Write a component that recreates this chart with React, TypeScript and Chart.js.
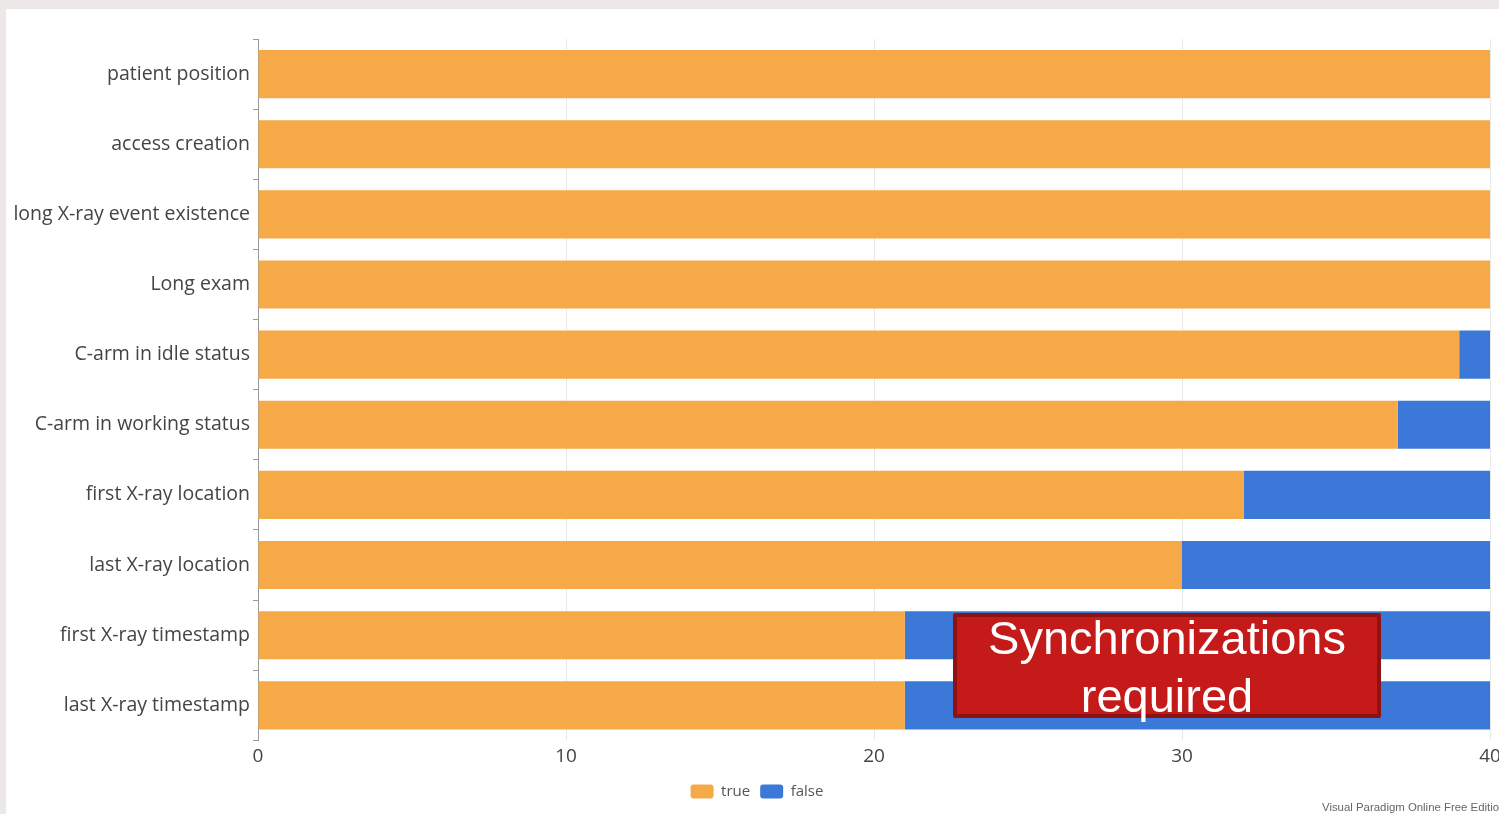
import React, { useEffect, useRef } from "react";
import { Chart, registerables } from "chart.js";

Chart.register(...registerables);

const categories = [
  "patient position",
  "access creation",
  "long X-ray event existence",
  "Long exam",
  "C-arm in idle status",
  "C-arm in working status",
  "first X-ray location",
  "last X-ray location",
  "first X-ray timestamp",
  "last X-ray timestamp",
];
const trueValues = [40, 40, 40, 40, 39, 37, 32, 30, 21, 21];
const falseValues = [0, 0, 0, 0, 1, 3, 8, 10, 19, 19];
const seriesNames = ["true", "false"];
const xTicks = [0, 10, 20, 30, 40];

const ORANGE = "#F5A947";
const BLUE = "#3C78D8";
const FONT = "'Open Sans', 'Noto Sans', sans-serif";

export default function App() {
  const canvasRef = useRef<HTMLCanvasElement | null>(null);

  useEffect(() => {
    const canvas = canvasRef.current;
    if (!canvas) return;
    const chart = new Chart(canvas, {
      type: "bar",
      data: {
        labels: categories,
        datasets: [
          {
            label: seriesNames[0],
            data: trueValues,
            backgroundColor: ORANGE,
            borderWidth: 0,
            barPercentage: 0.686,
            categoryPercentage: 1,
          },
          {
            label: seriesNames[1],
            data: falseValues,
            backgroundColor: BLUE,
            borderWidth: 0,
            barPercentage: 0.686,
            categoryPercentage: 1,
          },
        ],
      },
      options: {
        indexAxis: "y",
        responsive: false,
        animation: false,
        devicePixelRatio: 1,
        layout: { padding: { left: 0, right: 0, top: 39, bottom: 5 } },
        plugins: {
          tooltip: { enabled: false },
          legend: {
            position: "bottom",
            labels: {
              boxWidth: 23,
              boxHeight: 14,
              useBorderRadius: true,
              borderRadius: 3,
              color: "#555555",
              font: { family: FONT, size: 15 },
              padding: 10,
            },
          },
        },
        scales: {
          x: {
            stacked: true,
            min: 0,
            max: 40,
            afterBuildTicks: (scale: any) => {
              scale.ticks = xTicks.map((v) => ({ value: v }));
            },
            afterFit: (scale: any) => {
              scale.height = 33.6;
            },
            grid: { color: "#E8E8E8", drawTicks: false },
            border: { display: false },
            ticks: {
              color: "#444444",
              font: { family: FONT, size: 19 },
              padding: 5,
              maxRotation: 0,
            },
          },
          y: {
            stacked: true,
            afterFit: (scale: any) => {
              scale.width = 258;
            },
            grid: {
              drawOnChartArea: false,
              tickLength: 5,
              color: "#999999",
            },
            border: { color: "#999999" },
            ticks: {
              color: "#444444",
              font: { family: FONT, size: 19.5 },
              padding: 3,
            },
          },
          yRight: {
            axis: "y",
            type: "category",
            position: "right",
            afterFit: (scale: any) => {
              scale.width = 24;
            },
            grid: { display: false, drawTicks: false },
            border: { display: false },
            ticks: { display: false },
          },
        },
      },
    });
    return () => chart.destroy();
  }, []);

  return (
    <div
      style={{
        position: "fixed",
        left: 0,
        top: 0,
        width: 1499,
        height: 814,
        overflow: "hidden",
        background: "#EDE8E8",
      }}
    >
      <div
        style={{
          position: "absolute",
          left: 6,
          top: 9,
          width: 1493,
          height: 805,
          background: "#FFFFFF",
        }}
      />
      <canvas
        ref={canvasRef}
        width={1514}
        height={814}
        style={{ position: "absolute", left: 0, top: 0, width: 1514, height: 814 }}
      />
      <div
        style={{
          position: "absolute",
          left: 953,
          top: 613,
          width: 428,
          height: 105,
          boxSizing: "border-box",
          border: "4px solid #8E1212",
          borderRadius: 2,
          background: "#C51A1A",
        }}
      />
      <div
        style={{
          position: "absolute",
          left: 953,
          top: 609,
          width: 428,
          textAlign: "center",
          color: "#FFFFFF",
          fontFamily: "'Liberation Sans', Arial, sans-serif",
          fontSize: 47,
          lineHeight: "58px",
        }}
      >
        Synchronizations
        <br />
        required
      </div>
      <div
        style={{
          position: "absolute",
          left: 1322,
          top: 801,
          whiteSpace: "nowrap",
          color: "#666666",
          fontFamily: "'Liberation Sans', Arial, sans-serif",
          fontSize: 11.4,
        }}
      >
        Visual Paradigm Online Free Edition
      </div>
    </div>
  );
}
